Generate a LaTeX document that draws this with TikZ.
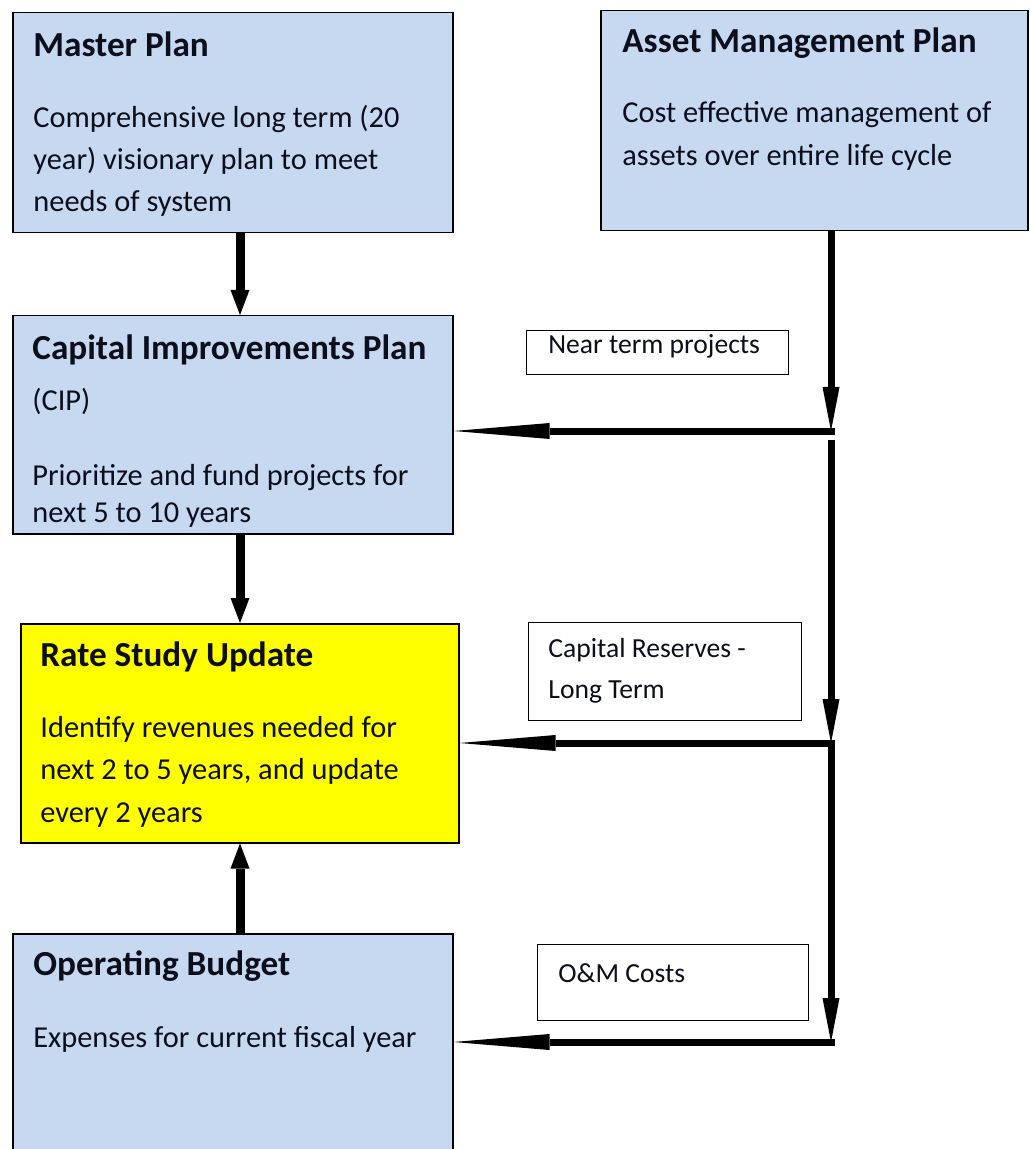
\documentclass[tikz,border=0pt]{standalone}
\usepackage{fontspec}
\setmainfont{Carlito}
\usetikzlibrary{arrows.meta}
\definecolor{planblue}{RGB}{198,217,241}
\definecolor{rateyellow}{RGB}{255,255,0}
\definecolor{ink}{RGB}{12,14,28}
\begin{document}
\begin{tikzpicture}[x=0.5pt,y=-0.5pt,
  panel/.style={draw=black, line width=0.75pt, anchor=north west, inner sep=0pt},
  bluepanel/.style={panel, fill=planblue},
  yellowpanel/.style={panel, fill=rateyellow},
  tag/.style={draw=black, line width=0.6pt, fill=white, anchor=north west, inner sep=0pt},
  head/.style={anchor=base west, inner sep=0pt, text=ink, font=\fontsize{17.6}{20}\selectfont\bfseries},
  body/.style={anchor=base west, inner sep=0pt, text=ink, font=\fontsize{15.2}{18}\selectfont},
  note/.style={anchor=base west, inner sep=0pt, text=ink, font=\fontsize{13.8}{16}\selectfont},
  mainflow/.style={line width=4.5pt, -{Triangle[length=12.5pt,width=9.5pt,line width=0pt]}},
  feed/.style={line width=3.5pt, -{Triangle[length=22pt,width=8.5pt,line width=0pt]}},
  branch/.style={line width=3.5pt, -{Triangle[length=48pt,width=8pt,line width=0pt]}},
]
\clip (0,0) rectangle (1029,1149);
\fill[white] (0,0) rectangle (1029,1149);

% planning boxes
\node[bluepanel, minimum width=220pt, minimum height=110pt] (mp) at (12,12) {};
\node[bluepanel, minimum width=213.5pt, minimum height=110pt] (amp) at (600,10) {};
\node[bluepanel, minimum width=220pt, minimum height=109pt] (cip) at (12,315) {};
\node[yellowpanel, minimum width=219pt, minimum height=109.5pt] (rsu) at (20,623) {};
\node[bluepanel, minimum width=220pt, minimum height=116pt] (ob) at (12,933) {};

% flow labels
\node[tag, minimum width=131pt, minimum height=22pt] (ntp) at (526,330) {};
\node[tag, minimum width=136.5pt, minimum height=49pt] (crl) at (528,622) {};
\node[tag, minimum width=135.5pt, minimum height=38pt] (om) at (537,944) {};

% box texts
\node[head] (mp-t) at (33,57) {Master Plan};
\node[body] (mp-1) at (33,128) {Comprehensive long term (20};
\node[body] (mp-2) at (33,170) {year) visionary plan to meet};
\node[body] (mp-3) at (33,212) {needs of system};

\node[head] (amp-t) at (622,53) {Asset Management Plan};
\node[body] (amp-1) at (622,123) {Cost effective management of};
\node[body] (amp-2) at (622,166) {assets over entire life cycle};

\node[head] (cip-t) at (32,360) {Capital Improvements Plan};
\node[body] (cip-1) at (32,410) {(CIP)};
\node[body] (cip-2) at (32,485) {Prioritize and fund projects for};
\node[body] (cip-3) at (32,522) {next 5 to 10 years};

\node[head] (rsu-t) at (40,666) {Rate Study Update};
\node[body] (rsu-1) at (40,737) {Identify revenues needed for};
\node[body] (rsu-2) at (40,779) {next 2 to 5 years, and update};
\node[body] (rsu-3) at (40,822) {every 2 years};

\node[head] (ob-t) at (33,975) {Operating Budget};
\node[body] (ob-1) at (33,1047) {Expenses for current fiscal year};

\node[note] (ntp-t) at (548,354) {Near term projects};
\node[note] (crl-1) at (548,657) {Capital Reserves -};
\node[note] (crl-2) at (548,698) {Long Term};
\node[note] (om-t) at (558,982) {O\&M Costs};

% left column flow
\coordinate (ax) at (240,0);
\draw[mainflow] (mp.south -| ax) -- (cip.north -| ax);
\draw[mainflow] (cip.south -| ax) -- (rsu.north -| ax);
\draw[mainflow] (ob.north -| ax) -- (rsu.south -| ax);

% asset management feed on the right
\coordinate (fx) at (831,0);
\coordinate (j1) at (831,431);
\coordinate (s2) at (831,440);
\coordinate (j2) at (831,743);
\coordinate (s3) at (831,747);
\coordinate (j3) at (831,1042);
\draw[feed] (amp.south -| fx) -- (j1);
\draw[branch] ([xshift=1.75pt]j1) -- (j1 -| cip.east);
\draw[feed] (s2) -- (j2);
\draw[branch] ([xshift=1.75pt]j2) -- (j2 -| rsu.east);
\draw[feed] (s3) -- (j3);
\draw[branch] ([xshift=1.75pt]j3) -- (j3 -| ob.east);
\end{tikzpicture}
\end{document}
